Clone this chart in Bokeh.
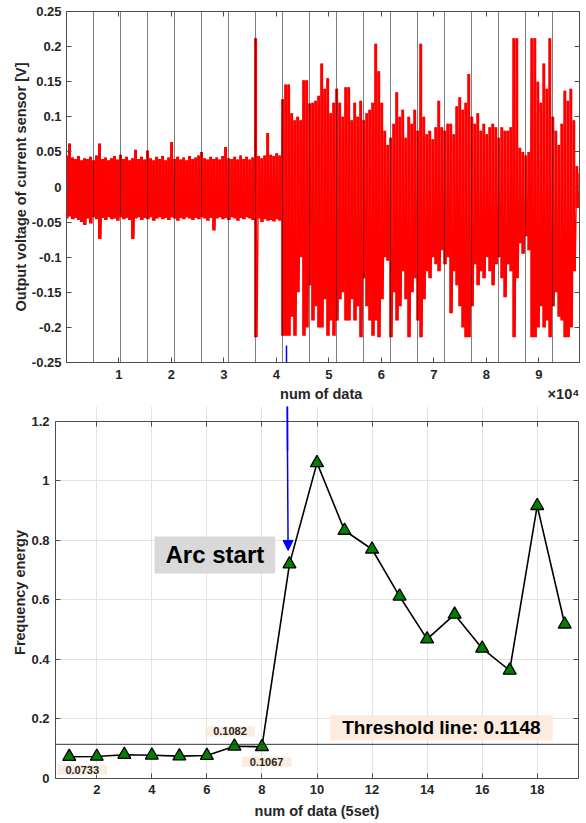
import numpy as np
from bokeh.plotting import figure
from bokeh.layouts import column
from bokeh.models import (Range1d, LinearAxis, FixedTicker,
                          CustomJSTickFormatter, Span, Label, Arrow, NormalHead)
from bokeh.embed import file_html
from bokeh.resources import INLINE

# ---------------- data ----------------
# top: current-sensor signal, read as upper / lower envelope per column
segment_len = 5145          # samples per data set
n_segments = 19
col_step = 572              # samples between envelope readings
sig_hi = [
    0.045, 0.062, 0.042, 0.040, 0.044, 0.038, 0.041, 0.040, 0.043, 0.038,
    0.045, 0.062, 0.040, 0.042, 0.038, 0.041, 0.044, 0.039, 0.046, 0.040,
    0.043, 0.038, 0.041, 0.053, 0.040, 0.043, 0.039, 0.052, 0.041, 0.038,
    0.043, 0.040, 0.044, 0.038, 0.042, 0.064, 0.040, 0.043, 0.039, 0.042,
    0.038, 0.044, 0.040, 0.042, 0.045, 0.050, 0.041, 0.039, 0.043, 0.040,
    0.042, 0.039, 0.044, 0.057, 0.041, 0.040, 0.043, 0.039, 0.045, 0.040,
    0.043, 0.039, 0.042, 0.212, 0.044, 0.041, 0.045, 0.077, 0.046, 0.044,
    0.048, 0.045,
    0.125, 0.146, 0.146, 0.105, 0.095, 0.100, 0.095, 0.152, 0.152, 0.119,
    0.120, 0.123, 0.130, 0.176, 0.140, 0.155, 0.105, 0.120, 0.140, 0.120,
    0.100, 0.142, 0.142, 0.095, 0.120, 0.100, 0.123, 0.095, 0.105, 0.110,
    0.120, 0.204, 0.165, 0.120, 0.080, 0.060, 0.070, 0.090, 0.135, 0.100,
    0.110, 0.070, 0.100, 0.090, 0.110, 0.080, 0.204, 0.100, 0.075, 0.080,
    0.068, 0.085, 0.123, 0.085, 0.080, 0.090, 0.090, 0.075, 0.115, 0.128,
    0.110, 0.120, 0.161, 0.100, 0.090, 0.105, 0.080, 0.090, 0.075, 0.085,
    0.090, 0.085, 0.070, 0.085, 0.080, 0.080, 0.085, 0.212, 0.212, 0.056,
    0.050, 0.045, 0.050, 0.212, 0.212, 0.150, 0.120, 0.176, 0.140, 0.212,
    0.100, 0.080, 0.060, 0.090, 0.137, 0.123, 0.140, 0.095, 0.030, 0.020,
]
sig_lo = [
    -0.045, -0.042, -0.046, -0.044, -0.047, -0.050, -0.054, -0.045, -0.052, -0.043,
    -0.046, -0.074, -0.044, -0.047, -0.043, -0.046, -0.045, -0.048, -0.043, -0.046,
    -0.044, -0.047, -0.074, -0.045, -0.043, -0.047, -0.044, -0.046, -0.043, -0.048,
    -0.045, -0.043, -0.046, -0.044, -0.047, -0.043, -0.045, -0.048, -0.044, -0.046,
    -0.043, -0.045, -0.047, -0.044, -0.046, -0.043, -0.045, -0.048, -0.044, -0.062,
    -0.045, -0.043, -0.046, -0.044, -0.047, -0.043, -0.045, -0.048, -0.044, -0.046,
    -0.043, -0.045, -0.047, -0.214, -0.045, -0.050, -0.046, -0.048, -0.047, -0.049,
    -0.046, -0.048,
    -0.212, -0.212, -0.212, -0.185, -0.212, -0.150, -0.100, -0.212, -0.200, -0.140,
    -0.190, -0.170, -0.200, -0.200, -0.160, -0.212, -0.190, -0.212, -0.190, -0.160,
    -0.150, -0.190, -0.190, -0.160, -0.190, -0.170, -0.214, -0.130, -0.170, -0.190,
    -0.212, -0.190, -0.214, -0.160, -0.100, -0.105, -0.214, -0.150, -0.190, -0.170,
    -0.120, -0.160, -0.214, -0.150, -0.130, -0.190, -0.214, -0.160, -0.120, -0.130,
    -0.100, -0.110, -0.120, -0.090, -0.110, -0.100, -0.180, -0.120, -0.140, -0.170,
    -0.200, -0.214, -0.214, -0.170, -0.110, -0.140, -0.120, -0.130, -0.100, -0.120,
    -0.140, -0.110, -0.100, -0.130, -0.157, -0.110, -0.120, -0.214, -0.130, -0.080,
    -0.095, -0.070, -0.090, -0.214, -0.214, -0.200, -0.170, -0.200, -0.190, -0.214,
    -0.170, -0.150, -0.185, -0.190, -0.214, -0.214, -0.200, -0.120, -0.030, 0.000,
]
top_x_ticks = [10000, 20000, 30000, 40000, 50000, 60000, 70000, 80000, 90000]
top_y_ticks = [-0.25, -0.2, -0.15, -0.1, -0.05, 0, 0.05, 0.1, 0.15, 0.2, 0.25]

# bottom: frequency energy per data set
sets = list(range(1, 20))
energy = [0.0733, 0.074, 0.080, 0.078, 0.075, 0.077, 0.1082, 0.1067, 0.720, 1.060,
          0.833, 0.770, 0.612, 0.468, 0.551, 0.437, 0.363, 0.916, 0.518]
threshold = 0.1148
arc_start_set = 9
bot_x_ticks = [2, 4, 6, 8, 10, 12, 14, 16, 18]
bot_y_ticks = [0, 0.2, 0.4, 0.6, 0.8, 1.0, 1.2]

FONT = "Liberation Sans"
AX = "#4d4d4d"
TXT = "#262626"
NB = "\u00a0"

# sample positions of the envelope readings
col_x = [i * col_step for i in range(len(sig_hi))]
# zig-zag path between the envelope readings
xs, ys = [], []
for xv, h, l in zip(col_x, sig_hi, sig_lo):
    xs += [xv, xv + col_step / 2]
    ys += [h, l]

fmt_num = CustomJSTickFormatter(code="return parseFloat(tick.toFixed(3)).toString();")


def style_axis(ax, labels=True, fs="13px"):
    ax.axis_line_color = AX
    ax.major_tick_line_color = AX
    ax.minor_tick_line_color = None
    ax.major_tick_in = 5
    ax.major_tick_out = 0
    ax.major_label_text_font = FONT
    ax.major_label_text_font_style = "bold"
    ax.major_label_text_color = TXT
    ax.major_label_text_font_size = fs if labels else "0px"
    ax.axis_label_text_font = FONT
    ax.axis_label_text_font_style = "bold"
    ax.axis_label_text_color = TXT
    ax.axis_label_text_font_size = "14.5px"
    if not labels:
        ax.major_label_standoff = 0


def connector(x_loc, bounds):
    # tick-less vertical axis line used as the shaft of the arc-start arrow
    return LinearAxis(ticker=FixedTicker(ticks=[]), fixed_location=x_loc, bounds=bounds,
                      axis_line_color="blue", axis_line_width=1.5,
                      major_tick_line_color=None, minor_tick_line_color=None,
                      major_label_text_font_size="0px", major_label_standoff=0)


# ---------------- top figure ----------------
N = segment_len * n_segments
p1 = figure(width=584, height=406, x_range=Range1d(0, N), y_range=Range1d(-0.25, 0.25),
            output_backend="svg", toolbar_location=None,
            min_border_left=66, min_border_right=5, min_border_top=11, min_border_bottom=44)
p1.xgrid.visible = False
p1.ygrid.visible = False
p1.outline_line_color = AX
p1.background_fill_color = "white"

p1.segment(x0=col_x, y0=sig_lo, x1=col_x, y1=sig_hi, line_color="#ff0000", line_width=3)
p1.line(xs, ys, line_color="#ff0000", line_width=1.2)

for k in range(1, n_segments):
    p1.add_layout(Span(location=k * segment_len, dimension="height",
                       line_color="black", line_alpha=0.5, line_width=1))

top_yticker = FixedTicker(ticks=top_y_ticks)
top_xticker = FixedTicker(ticks=top_x_ticks)
fmt_1e4 = CustomJSTickFormatter(code="return (tick/10000).toFixed(0);")

p1.xaxis.ticker = top_xticker
p1.xaxis.formatter = fmt_1e4
p1.yaxis.ticker = top_yticker
p1.yaxis.formatter = fmt_num
for ax in p1.xaxis + p1.yaxis:
    style_axis(ax)
# axis label with the x10^4 exponent placed at the right end
p1.xaxis.axis_label = NB * 53 + "num of data" + NB * 46 + "\u00d710\u2074"
p1.yaxis.axis_label = "Output voltage of current sensor [V]"
p1.xaxis.major_label_standoff = 7
p1.xaxis.axis_label_standoff = 4
p1.yaxis.major_label_standoff = 5
p1.yaxis.axis_label_standoff = 0

ax_r = LinearAxis(ticker=top_yticker)
style_axis(ax_r, labels=False)
p1.add_layout(ax_r, "right")
ax_t = LinearAxis(ticker=top_xticker)
style_axis(ax_t, labels=False)
p1.add_layout(ax_t, "above")

# upper part of the arc-start arrow (shaft leaving the top plot)
p1.add_layout(connector(41950, (-0.35, -0.2255)), "left")

# ---------------- bottom figure ----------------
# frame extended upward to the top of the canvas so the arrow can enter from above
y_top = 1.2494
p2 = figure(width=584, height=416, x_range=Range1d(0.5, 19.5), y_range=Range1d(0, y_top),
            output_backend="svg", toolbar_location=None,
            min_border_left=55, min_border_right=6, min_border_top=0, min_border_bottom=44)
p2.outline_line_color = None
p2.background_fill_color = "white"
bx = FixedTicker(ticks=bot_x_ticks)
by = FixedTicker(ticks=bot_y_ticks)
p2.xaxis.ticker = bx
p2.yaxis.ticker = by
p2.yaxis.formatter = fmt_num
for ax in p2.xaxis + p2.yaxis:
    style_axis(ax)
p2.yaxis.bounds = (0, 1.2)
p2.xaxis.axis_label = "num of data (5set)"
p2.yaxis.axis_label = "Frequency energy"
p2.xaxis.major_label_standoff = 6
p2.xaxis.axis_label_standoff = 6
p2.yaxis.major_label_standoff = 6
p2.yaxis.axis_label_standoff = 0
p2.xgrid.grid_line_color = "#e3e3e3"
p2.ygrid.grid_line_color = "#e3e3e3"
p2.xgrid.bounds = (0, 1.2)

ax_r2 = LinearAxis(ticker=by, bounds=(0, 1.2))
style_axis(ax_r2, labels=False)
p2.add_layout(ax_r2, "right")
ax_t2 = LinearAxis(ticker=bx, fixed_location=1.2)
style_axis(ax_t2, labels=False)
p2.add_layout(ax_t2, "above")

p2.add_layout(Span(location=threshold, dimension="width", line_color="#333333", line_width=1))

p2.line(sets, energy, line_color="black", line_width=1.6)
p2.scatter(sets, energy, marker="triangle", size=13, fill_color="#007f00",
           line_color="black", line_width=1.3)

PEACH = "#fcebdf"
for xv, yv, val in [(1.47, 0.0295, energy[0]), (6.84, 0.158, energy[6]), (8.17, 0.0564, energy[7])]:
    p2.add_layout(Label(x=xv, y=yv, text=f"{val:.4f}", text_font=FONT,
                        text_font_style="bold", text_font_size="11px", text_color=TXT,
                        text_align="center", text_baseline="middle",
                        background_fill_color=PEACH, padding=(8, 1)))
p2.add_layout(Label(x=14.52, y=0.1705, text=f"Threshold line: {threshold:.4f}", text_font=FONT,
                    text_font_style="bold", text_font_size="19px", text_color="black",
                    text_align="center", text_baseline="middle",
                    background_fill_color=PEACH, padding=(12, 2)))
p2.add_layout(Label(x=6.29, y=0.751, text="Arc start", text_font=FONT,
                    text_font_style="bold", text_font_size="24px", text_color="black",
                    text_align="center", text_baseline="middle",
                    background_fill_color="#d9d9d9", padding=(11, 5)))

# lower part of the arc-start arrow
p2.add_layout(connector(8.915, (1.1, 1.35)), "left")
p2.add_layout(Arrow(end=NormalHead(size=10, fill_color="blue", line_color="blue"),
                    x_start=8.915, y_start=1.30, x_end=arc_start_set - 0.05, y_end=0.766,
                    line_color="blue", line_width=1.5))

# wrap each figure separately so their frames are not aligned to each other
layout = column(column(p1), column(p2))
open("out.html", "w").write(file_html(layout, INLINE))
